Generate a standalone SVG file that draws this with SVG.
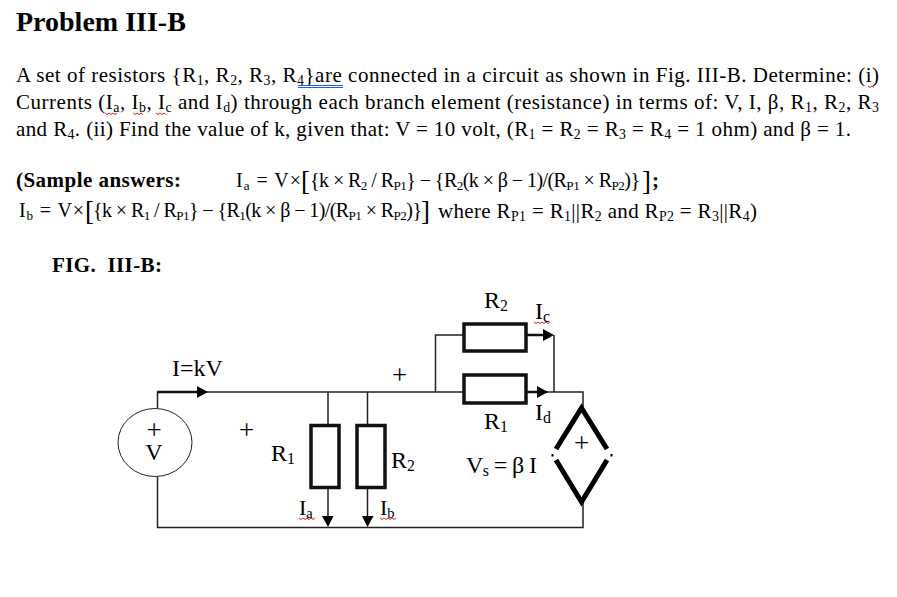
<svg xmlns="http://www.w3.org/2000/svg" width="897" height="597" viewBox="0 0 897 597">
<style>
text{font-family:"Liberation Serif","Times New Roman",serif;fill:#000}
.b{font-weight:bold}
.p{font-size:21px}
.e{font-size:20px}
.c{font-size:24px}
.l{font-size:22px}
.pl{font-size:27px;text-anchor:middle}
.s{font-size:.66em;baseline-shift:-3px}
.br{font-size:27px}
.w{fill:none;stroke:#222;stroke-width:1.500}
.t{fill:none;stroke:#111;stroke-width:2.500}
.r{fill:#fff;stroke:#111;stroke-width:3.500}
.a{fill:#000;stroke:none}
.sq{fill:none;stroke:#e02020;stroke-width:1}
.bl{fill:none;stroke:#2060e0;stroke-width:1}
</style>
<rect width="897" height="597" fill="#fff"/>
<g id="text-block">
<text x="16" y="31" class="b" font-size="28">Problem III-B</text>
<text x="16" y="82" class="p" textLength="863">A set of resistors {R<tspan class="s">1</tspan>, R<tspan class="s">2</tspan>, R<tspan class="s">3</tspan>, R<tspan class="s">4</tspan>}are connected in a circuit as shown in Fig. III-B. Determine: (i)</text>
<text x="16" y="109" class="p" textLength="863">Currents (I<tspan class="s">a</tspan>, I<tspan class="s">b</tspan>, I<tspan class="s">c</tspan> and I<tspan class="s">d</tspan>) through each branch element (resistance) in terms of: V, I, β, R<tspan class="s">1</tspan>, R<tspan class="s">2</tspan>, R<tspan class="s">3</tspan></text>
<text x="16" y="136" class="p" textLength="835">and R<tspan class="s">4</tspan>. (ii) Find the value of k, given that: V = 10 volt, (R<tspan class="s">1</tspan> = R<tspan class="s">2</tspan> = R<tspan class="s">3</tspan> = R<tspan class="s">4</tspan> = 1 ohm) and β = 1.</text>
<path class="bl" d="M298 85.500H343M298 87.500H343"/>
<path class="sq" d="M105 113l2 1.500 2-1.500 2 1.500 2-1.500 2 1.500 2-1.500M133 113l2 1.500 2-1.500 2 1.500 2-1.500 2 1.500M156 113l2 1.500 2-1.500 2 1.500 2-1.500 2 1.500M868 86l2 1.500 2-1.500 2 1.500"/>
<text x="16" y="187" class="b p" textLength="165">(Sample answers:</text>
<text x="236" y="187" class="e" textLength="65">I<tspan class="s">a</tspan> = V×</text>
<text x="301" y="190" class="br">[</text>
<text x="310" y="187" class="e" textLength="330">{k × R<tspan class="s">2</tspan> / R<tspan class="s">P1</tspan>} − {R<tspan class="s">2</tspan>(k × β − 1)/(R<tspan class="s">P1</tspan> × R<tspan class="s">P2</tspan>)}</text>
<text x="642" y="190" class="br">]</text>
<text x="652" y="187" class="b p">;</text>
<text x="19" y="217" class="e" textLength="65">I<tspan class="s">b</tspan> = V×</text>
<text x="85" y="220" class="br">[</text>
<text x="93" y="217" class="e" textLength="329">{k × R<tspan class="s">1</tspan> / R<tspan class="s">P1</tspan>} − {R<tspan class="s">1</tspan>(k × β − 1)/(R<tspan class="s">P1</tspan> × R<tspan class="s">P2</tspan>)}</text>
<text x="421" y="220" class="br">]</text>
<text x="438" y="218" class="p" textLength="319">where R<tspan class="s">P1</tspan> = R<tspan class="s">1</tspan>||R<tspan class="s">2</tspan> and R<tspan class="s">P2</tspan> = R<tspan class="s">3</tspan>||R<tspan class="s">4</tspan>)</text>
<text x="52" y="272" class="b p" textLength="110">FIG.&#160; III-B:</text>
</g>
<g id="connectors">
<path class="w" d="M157.500 408V392H583V408M583 502V527.500H157.500V477"/>
<path class="w" d="M328 392V425M367.500 392V425M435.500 392V335H463M554 335V392"/>
<path class="t" d="M157.500 392H200"/>
<path class="w" d="M328 488V518M367.500 488V518"/>
<path class="t" d="M527 335H545M527 392H540"/>
<polygon class="a" points="197,386 208,392 197,398"/>
<polygon class="a" points="322,516 333.500,516 328,527"/>
<polygon class="a" points="362,516 373.500,516 367.500,527"/>
<polygon class="a" points="543,329 554,335 543,341"/>
<polygon class="a" points="537,386 548,392 537,398"/>
</g>
<g id="source-V">
<ellipse cx="155" cy="442.500" rx="37" ry="34" fill="#fff" stroke="#222" stroke-width="1"/>
<text x="154" y="439" class="pl">+</text>
<text x="154" y="460" class="c" text-anchor="middle">V</text>
<text x="172" y="376" class="c">I=kV</text>
</g>
<g id="plus-marks">
<text x="246.500" y="439" class="pl">+</text>
<text x="399.500" y="384" class="pl">+</text>
</g>
<g id="resistor-R1-left">
<rect class="r" x="311" y="425.500" width="28" height="62"/>
<text x="271" y="461" class="c">R<tspan class="s">1</tspan></text>
<text x="299" y="515" class="l">I<tspan class="s">a</tspan></text>
<path class="sq" d="M299 518l2 1.500 2-1.500 2 1.500 2-1.500 2 1.500 2-1.500 2 1.500 2-1.500"/>
</g>
<g id="resistor-R2-left">
<rect class="r" x="357" y="425.500" width="28" height="62"/>
<text x="391" y="468" class="c">R<tspan class="s">2</tspan></text>
<text x="380" y="515" class="l">I<tspan class="s">b</tspan></text>
<path class="sq" d="M380 518l2 1.500 2-1.500 2 1.500 2-1.500 2 1.500 2-1.500 2 1.500 2-1.500"/>
</g>
<g id="resistor-R2-top">
<rect class="r" x="464" y="324" width="62" height="27"/>
<text x="484" y="308" class="c">R<tspan class="s">2</tspan></text>
<text x="535" y="319" class="c">I<tspan class="s">c</tspan></text>
<path class="sq" d="M534 322l2 1.500 2-1.500 2 1.500 2-1.500 2 1.500 2-1.500 2 1.500 2-1.500"/>
</g>
<g id="resistor-R1-top">
<rect class="r" x="464" y="375" width="62" height="28"/>
<text x="484" y="429" class="c">R<tspan class="s">1</tspan></text>
<text x="535" y="420" class="c">I<tspan class="s">d</tspan></text>
</g>
<g id="dependent-source">
<path d="M556 449L581.500 408L607 449M556 460L581.500 502L607 460" fill="none" stroke="#000" stroke-width="5"/>
<path d="M551.500 454h2v2.500h-2zM610.500 454h2v2.500h-2z" fill="#000"/>
<text x="581.500" y="452" class="pl">+</text>
<text x="466" y="473" class="c" textLength="71">V<tspan class="s">s</tspan> = β I</text>
</g>
</svg>
